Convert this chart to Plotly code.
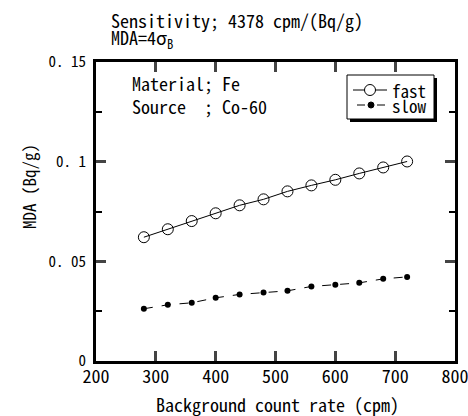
import plotly.graph_objects as go

rate = [280, 320, 360, 400, 440, 480, 520, 560, 600, 640, 680, 720]
mda_fast = [0.0621, 0.0661, 0.0702, 0.0741, 0.0781, 0.0811, 0.0851, 0.0881, 0.0909, 0.0941, 0.0971, 0.1001]
mda_slow = [0.0262, 0.0282, 0.0292, 0.0317, 0.0334, 0.0344, 0.0352, 0.0374, 0.0382, 0.0392, 0.0412, 0.0422]
series_names = ["fast", "slow"]

y_tickvals = [0, 0.05, 0.1, 0.15]
y_ticktext = ["0", "0. 05", "0. 1", "0. 15"]
x_tickvals = [200, 300, 400, 500, 600, 700, 800]

FONT = "Noto Sans Mono CJK JP"
W, H = 468, 416
L, R, T, B = 96, 13, 62, 55
PW, PH = W - L - R, H - T - B


def px(x):
    return (x - L) / PW


def py(y):
    return (H - B - y) / PH


fig = go.Figure()
fig.add_trace(go.Scatter(
    x=rate, y=mda_fast, name=series_names[0], mode="lines+markers",
    line=dict(color="black", width=1),
    marker=dict(symbol="circle-open", size=11, color="black", line=dict(width=1)),
))
fig.add_trace(go.Scatter(
    x=rate, y=mda_slow, name=series_names[1], mode="lines+markers",
    line=dict(color="black", width=1, dash="dash"),
    marker=dict(symbol="circle", size=6, color="black"),
))

fig.update_layout(
    width=W, height=H,
    margin=dict(l=L, r=R, t=T, b=B, autoexpand=False),
    paper_bgcolor="white", plot_bgcolor="white",
    font=dict(family=FONT, size=17, color="black"),
    showlegend=False,
)
fig.update_xaxes(
    range=[200, 800], tickvals=x_tickvals, ticks="inside", ticklen=10, tickwidth=3,
    showline=True, linewidth=3, linecolor="black", mirror="ticks", automargin=False,
    ticklabeloverflow="allow", ticklabelstandoff=-3,
    showgrid=False, zeroline=False, tickfont=dict(size=18),
)
fig.update_yaxes(
    range=[0, 0.15], tickvals=y_tickvals, ticktext=y_ticktext,
    ticks="inside", ticklen=10, tickwidth=3, ticklabelstandoff=4, automargin=False,
    minor=dict(ticks="inside", ticklen=6, tickwidth=2, tickvals=[0.025, 0.075, 0.125], tickcolor="black"),
    showline=True, linewidth=3, linecolor="black", mirror="ticks",
    showgrid=False, zeroline=False, tickfont=dict(size=15),
)

# custom legend (box with shadow)
shapes = [
    dict(type="rect", xref="paper", yref="paper", x0=px(350), x1=px(437), y0=py(78), y1=py(122),
         fillcolor="black", line=dict(width=0), layer="above"),
    dict(type="rect", xref="paper", yref="paper", x0=px(347), x1=px(434), y0=py(75), y1=py(119),
         fillcolor="white", line=dict(color="black", width=1), layer="above"),
    dict(type="line", xref="paper", yref="paper", x0=px(353), x1=px(387), y0=py(90), y1=py(90),
         line=dict(color="black", width=1), layer="above"),
    dict(type="circle", xref="paper", yref="paper", xsizemode="pixel", ysizemode="pixel",
         xanchor=px(370), yanchor=py(90), x0=-5.5, x1=5.5, y0=-5.5, y1=5.5,
         fillcolor="white", line=dict(color="black", width=1), layer="above"),
    dict(type="line", xref="paper", yref="paper", x0=px(357), x1=px(365), y0=py(105), y1=py(105),
         line=dict(color="black", width=1), layer="above"),
    dict(type="line", xref="paper", yref="paper", x0=px(377), x1=px(385), y0=py(105), y1=py(105),
         line=dict(color="black", width=1), layer="above"),
    dict(type="circle", xref="paper", yref="paper", xsizemode="pixel", ysizemode="pixel",
         xanchor=px(371), yanchor=py(105), x0=-3, x1=3, y0=-3, y1=3,
         fillcolor="black", line=dict(color="black", width=1), layer="above"),
]
fig.update_layout(shapes=shapes)
for name, yy in zip(series_names, [90, 105]):
    fig.add_annotation(text=name, xref="paper", yref="paper", x=px(390), y=py(yy),
                       xanchor="left", yanchor="middle", showarrow=False, font=dict(size=17))

fig.add_annotation(text="Sensitivity; 4378 cpm/(Bq/g)", xref="paper", yref="paper",
                   x=px(109), y=py(20), xanchor="left", yanchor="middle",
                   showarrow=False, font=dict(size=18))
fig.add_annotation(text="MDA=4σ<sub>B</sub>", xref="paper", yref="paper",
                   x=px(109), y=py(38), xanchor="left", yanchor="middle",
                   showarrow=False, font=dict(size=18))
fig.add_annotation(text="Material; Fe<br>Source  ; Co-60", xref="paper", yref="paper",
                   x=px(130), y=py(94), xanchor="left", yanchor="middle",
                   align="left", showarrow=False, font=dict(size=18))
fig.add_annotation(text="Background count rate (cpm)", xref="paper", yref="paper",
                   x=px(277), y=py(404), xanchor="center", yanchor="middle",
                   showarrow=False, font=dict(size=18))
fig.add_annotation(text="MDA (Bq/g)", xref="paper", yref="paper", textangle=-90,
                   x=px(28), y=py(187), xanchor="center", yanchor="middle",
                   showarrow=False, font=dict(size=17))

fig.write_html("out.html", config={"displayModeBar": False},
               post_script="document.body.style.margin='0';")
